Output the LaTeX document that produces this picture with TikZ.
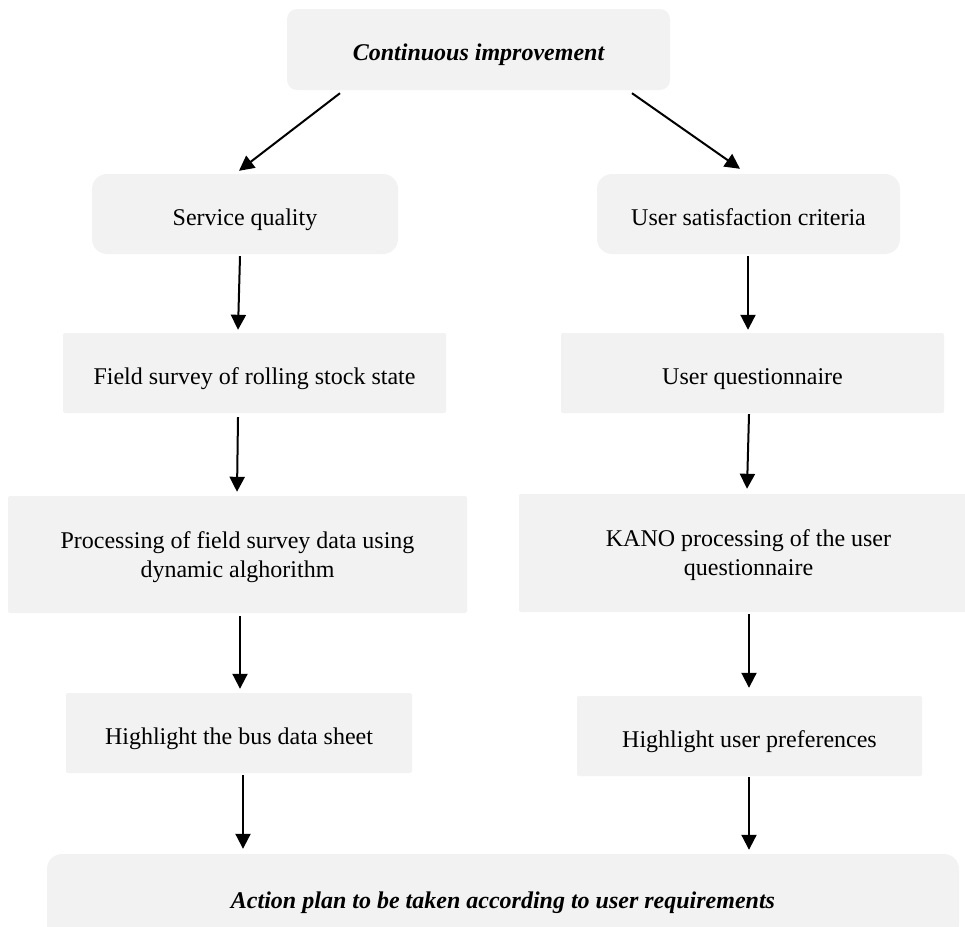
\documentclass[tikz,border=0pt]{standalone}
\usepackage{fontspec}
\setmainfont{Liberation Serif}
\usetikzlibrary{arrows.meta,calc}
\definecolor{boxfill}{HTML}{F2F2F2}
\begin{document}
\begin{tikzpicture}[x=1pt,y=-1pt,
  box/.style={fill=boxfill,draw=none,inner sep=0pt,align=center,
    font=\fontsize{24}{29}\selectfont,rounded corners=2pt,
    text height=22pt,text depth=0pt},
  twoline/.style={text height=,text depth=-5pt},
  roundbox/.style={box,rounded corners=15pt},
  arr/.style={line width=2pt,-{Triangle[length=15pt,width=15pt]}}]
\path[use as bounding box,clip] (0,0) rectangle (965,926);
\node[box,rounded corners=10pt,minimum width=383pt,minimum height=81pt,font=\fontsize{24}{29}\selectfont\bfseries\itshape] (top) at (478.5,49.5) {Continuous improvement};
\node[roundbox,minimum width=306pt,minimum height=80pt] (sq) at (245,214) {Service quality};
\node[roundbox,minimum width=303pt,minimum height=80pt] (us) at (748.5,214) {User satisfaction criteria};
\node[box,minimum width=383pt,minimum height=80pt] (fs) at (254.5,373) {Field survey of rolling stock state};
\node[box,minimum width=383pt,minimum height=80pt] (uq) at (752.5,373) {User questionnaire};
\node[box,twoline,minimum width=459pt,minimum height=117pt] (pr) at (237.5,554.5) {Processing of field survey data using\\dynamic alghorithm};
\node[box,twoline,minimum width=459pt,minimum height=118pt] (ka) at (748.5,553) {KANO processing of the user\\questionnaire};
\node[box,minimum width=346pt,minimum height=80pt] (hb) at (239,733) {Highlight the bus data sheet};
\node[box,minimum width=345pt,minimum height=80pt] (hu) at (749.5,736) {Highlight user preferences};
\node[roundbox,minimum width=912pt,minimum height=86pt,font=\fontsize{24}{29}\selectfont\bfseries\itshape] (ap) at (503,897) {Action plan to be taken according to user requirements};
\draw[arr] ($(top.south)+(-138.5,3)$) -- ($(sq.north)+(-6,-3)$);
\draw[arr] ($(top.south)+(153.5,3)$) -- ($(us.north)+(-8.5,-5)$);
\draw[arr] ($(sq.south)+(-5,2)$) -- ($(fs.north)+(-16.5,-3)$);
\draw[arr] ($(us.south)+(-0.5,2)$) -- ($(uq.north)+(-4.5,-3)$);
\draw[arr] ($(fs.south)+(-16.5,4)$) -- ($(pr.north)+(-0.5,-4)$);
\draw[arr] ($(uq.south)+(-3.5,1)$) -- ($(ka.north)+(-1.5,-5)$);
\draw[arr] ($(pr.south)+(2.5,3)$) -- ($(hb.north)+(1,-4)$);
\draw[arr] ($(ka.south)+(0.5,2)$) -- ($(hu.north)+(-0.5,-8)$);
\draw[arr] ($(hb.south)+(4,2)$) -- ($(ap.north)+(-260,-5)$);
\draw[arr] ($(hu.south)+(-0.5,1)$) -- ($(ap.north)+(246,-4)$);
\end{tikzpicture}
\end{document}
